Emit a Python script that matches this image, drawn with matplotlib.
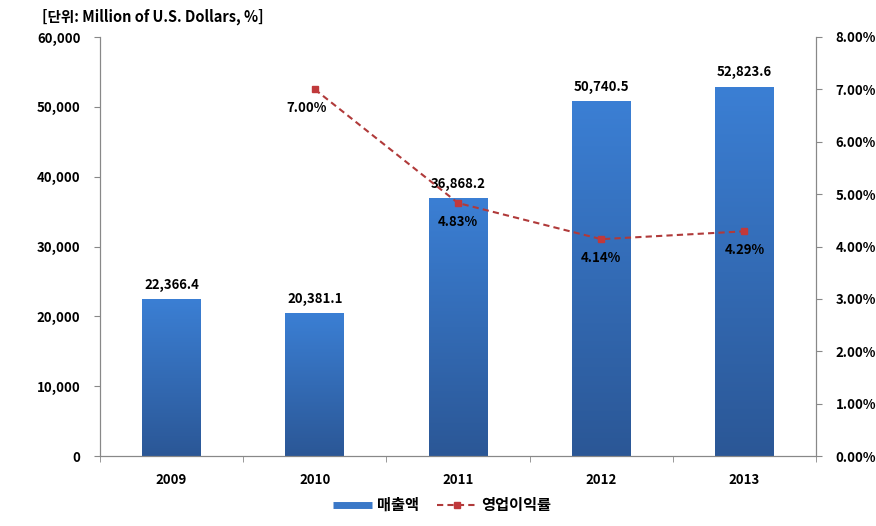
import matplotlib
matplotlib.use("Agg")
import matplotlib.pyplot as plt
import numpy as np
from matplotlib.lines import Line2D
import matplotlib.colors as mcolors

plt.rcParams['font.family'] = ['Noto Sans CJK KR', 'DejaVu Sans']
plt.rcParams['font.weight'] = 'bold'

years = ['2009', '2010', '2011', '2012', '2013']
sales = [22366.4, 20381.1, 36868.2, 50740.5, 52823.6]
margin_years = ['2010', '2011', '2012', '2013']
margin = [7.00, 4.83, 4.14, 4.29]
sales_labels = ['22,366.4', '20,381.1', '36,868.2', '50,740.5', '52,823.6']
margin_labels = ['7.00%', '4.83%', '4.14%', '4.29%']

fig = plt.figure(figsize=(8.76, 5.26), dpi=100)
ax = fig.add_axes([100/876, 1-456/526, 716/876, 419/526])
ax2 = ax.twinx()

fs = 9.5
x = np.arange(len(years))
bw = 0.41
bars = ax.bar(x, sales, width=bw, color='none', edgecolor='none', zorder=2)
cmap = mcolors.LinearSegmentedColormap.from_list('g', ['#2b5796', '#3b7fd4'])
grad = np.linspace(0, 1, 256).reshape(-1, 1)
for b in bars:
    x0, w, h = b.get_x(), b.get_width(), b.get_height()
    ax.imshow(grad, cmap=cmap, aspect='auto', origin='lower',
              extent=[x0, x0 + w, 0, h], zorder=2)
for xi, v, lab in zip(x, sales, sales_labels):
    ax.text(xi, v + 1100, lab, ha='center', va='bottom', fontsize=fs, fontweight='bold')

ax.set_xlim(-0.5, len(years) - 0.5)
ax.set_ylim(0, 60000)
ax.set_yticks(np.arange(0, 60001, 10000))
ax.set_yticklabels([f'{v:,}' for v in range(0, 60001, 10000)], fontsize=fs, fontweight='bold')
ax.set_xticks(x)
ax.set_xticklabels(years, fontsize=fs, fontweight='bold')
ax.set_xticks(np.arange(-0.5, len(years)), minor=True)
ax.tick_params(axis='x', which='major', length=0, pad=12)
ax.tick_params(axis='x', which='minor', length=4, color='#888888', direction='out')
ax.tick_params(axis='y', length=4, color='#888888', direction='out', pad=10)

mx = [years.index(y) for y in margin_years]
line_kw = dict(color='#b03a3a', linestyle=(0, (3, 2)), linewidth=1.5,
               marker='s', markersize=5, markerfacecolor='#c0393b', markeredgecolor='#c0393b')
ax2.plot(mx, margin, zorder=3, **line_kw)
for xi, v, lab in zip(mx, margin, margin_labels):
    ax2.text(xi - 0.06 if v > 6 else xi, v - 0.22, lab, ha='center', va='top',
             fontsize=fs, fontweight='bold')
ax2.set_ylim(0, 8)
ax2.set_yticks(np.arange(0, 8.01, 1))
ax2.set_yticklabels([f'{v:.2f}%' for v in np.arange(0, 8.01, 1)], fontsize=fs, fontweight='bold')
ax2.tick_params(axis='y', length=4, color='#888888', direction='out', pad=10)

for a in (ax, ax2):
    a.spines['top'].set_visible(False)
    for s in ('left', 'right', 'bottom'):
        a.spines[s].set_color('#888888')

fig.text(42/876, 1-17/526, '[단위: Million of U.S. Dollars, %]', fontsize=10.5, fontweight='bold',
         ha='left', va='center')

handles = [Line2D([0], [0], color='#3a78c8', linewidth=5, solid_capstyle='butt'),
           Line2D([0], [0], **line_kw)]
fig.legend(handles, ['매출액', '영업이익률'], loc='center', bbox_to_anchor=(442/876, 1-505/526),
           ncol=2, frameon=False, handlelength=2.6, columnspacing=1.2, handletextpad=0.3,
           prop={'weight': 'bold', 'size': 11})

fig.savefig('out.png', dpi=100)
